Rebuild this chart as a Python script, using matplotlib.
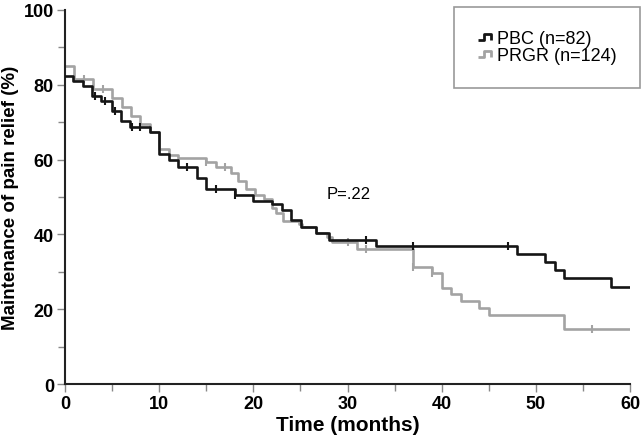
import matplotlib.pyplot as plt
from matplotlib.lines import Line2D
from matplotlib.path import Path

plt.rcParams['font.family'] = ['Liberation Sans', 'DejaVu Sans']

# Kaplan-Meier step data (time in months, level in %)
pbc_t = [0, 0.8, 1.9, 2.9, 3.8, 5.0, 5.9, 6.9, 9.0, 10.0, 11.0, 12.0, 14.0, 15.0,
         18.0, 20.0, 22.0, 23.0, 24.0, 25.1, 26.7, 28.0, 33.0, 48.0, 51.0, 52.0,
         53.0, 58.0, 60.0]
pbc_s = [82.3, 81.0, 79.6, 77.1, 75.7, 73.0, 70.4, 68.6, 67.3, 61.5, 60.0, 58.0, 55.2, 52.1,
         50.6, 49.0, 48.0, 46.6, 43.8, 41.9, 40.5, 38.5, 37.0, 34.8, 32.5, 30.4,
         28.3, 26.0, 26.0]
pbc_cens_t = [3.2, 4.2, 5.3, 7.1, 8.0, 13.0, 16.0, 18.0, 32.0, 37.0, 47.0]
pbc_cens_s = [77.1, 75.7, 73.0, 68.6, 68.6, 58.0, 52.1, 50.6, 38.5, 37.0, 37.0]

prgr_t = [0, 1.0, 3.0, 5.0, 6.0, 7.0, 8.0, 9.0, 10.0, 11.0, 12.0, 15.0, 16.0, 17.6,
          18.4, 19.2, 20.2, 21.1, 22.0, 22.4, 23.1, 24.8, 25.2, 26.7, 27.8, 28.3,
          31.0, 37.0, 39.0, 40.0, 41.0, 42.0, 44.0, 45.0, 53.0, 60.0]
prgr_s = [85.0, 81.5, 78.9, 76.4, 74.0, 71.7, 69.5, 67.3, 62.8, 61.2, 60.3, 59.3, 58.1, 56.5,
          54.3, 52.2, 50.6, 49.5, 47.0, 45.6, 43.6, 42.8, 41.9, 40.5, 39.2, 37.9,
          36.2, 31.2, 29.7, 25.8, 24.1, 22.3, 20.3, 18.4, 14.7, 14.7]
prgr_cens_t = [2.0, 4.0, 15.0, 17.0, 30.0, 32.0, 37.0, 39.0, 56.0]
prgr_cens_s = [81.5, 78.9, 59.3, 58.1, 37.9, 36.2, 31.2, 29.7, 14.7]

black = '#151515'
grey = '#a3a3a3'

fig = plt.figure(figsize=(6.41, 4.39), dpi=100)
ax = fig.add_axes([0.1014, 0.123, 0.8816, 0.852])

ax.step(prgr_t, prgr_s, where='post', color=grey, lw=1.9, zorder=2)
ax.plot(prgr_cens_t, prgr_cens_s, linestyle='none', marker='|', ms=6, mew=1.5, color=grey, zorder=2)
ax.step(pbc_t, pbc_s, where='post', color=black, lw=1.9, zorder=3)
ax.plot(pbc_cens_t, pbc_cens_s, linestyle='none', marker='|', ms=6, mew=1.5, color=black, zorder=3)

ax.text(30.1, 51, 'P=.22', fontsize=12, ha='center', va='center')

ax.set_xlim(0, 60)
ax.set_ylim(0, 100)
ax.set_xticks(range(0, 61, 10))
ax.set_xticks(range(5, 60, 10), minor=True)
ax.set_yticks(range(0, 101, 20))
ax.set_yticks(range(10, 100, 20), minor=True)
for sp in ['top', 'right']:
    ax.spines[sp].set_visible(False)
for sp in ['left', 'bottom']:
    ax.spines[sp].set_linewidth(1.5)
    ax.spines[sp].set_color('#222222')
ax.tick_params(which='both', direction='out', color='#888888', width=1)
ax.tick_params(which='major', length=6, labelsize=13, pad=2)
ax.tick_params(which='minor', length=5)
for lab in ax.get_xticklabels() + ax.get_yticklabels():
    lab.set_fontweight('bold')

ax.set_xlabel('Time (months)', fontsize=15, fontweight='bold', labelpad=2)
ax.set_ylabel('Maintenance of pain relief (%)', fontsize=13.5, fontweight='bold', labelpad=3)

# step-shaped legend icons
step_icon = Path([(-1.0, -0.5), (-0.1, -0.5), (-0.1, 0.5), (0.8, 0.5), (0.8, -0.5)])
handles = [
    Line2D([], [], linestyle='none', marker=step_icon, ms=10, mfc='none', mec=black, mew=2),
    Line2D([], [], linestyle='none', marker=step_icon, ms=10, mfc='none', mec=grey, mew=2),
]
leg = fig.legend(handles, ['PBC (n=82)', 'PRGR (n=124)'], loc='upper left',
                 bbox_to_anchor=(454 / 641, 1 - 8 / 439), fancybox=False, framealpha=1,
                 edgecolor='#999999', handlelength=0.8, handletextpad=0.3, labelspacing=0.0,
                 borderpad=1.3, borderaxespad=0, prop={'size': 13})
leg.get_frame().set_linewidth(1.2)

fig.savefig('out.png', dpi=100)
